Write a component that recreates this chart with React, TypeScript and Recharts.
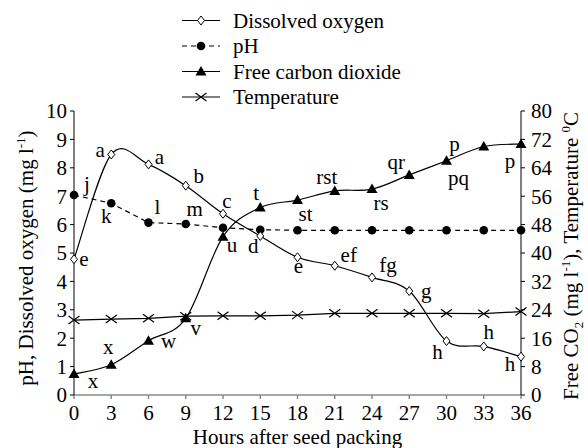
import React from "react";
import { LineChart, Line, XAxis, YAxis, Legend } from "recharts";

const hours = [0, 3, 6, 9, 12, 15, 18, 21, 24, 27, 30, 33, 36];
// left axis (pH, mg/l)
const dissolvedOxygen = [4.78, 8.47, 8.12, 7.37, 6.38, 5.6, 4.85, 4.55, 4.14, 3.66, 1.9, 1.71, 1.35];
const pH = [7.04, 6.75, 6.07, 6.02, 5.89, 5.82, 5.8, 5.8, 5.8, 5.8, 5.8, 5.8, 5.8];
// right axis (mg/l, deg C)
const freeCO2 = [5.9, 8.5, 15.3, 21.6, 44.6, 52.8, 54.9, 57.5, 58.0, 62.0, 66.0, 70.0, 70.7];
const temperature = [21.1, 21.4, 21.6, 22.2, 22.3, 22.3, 22.5, 23.0, 23.0, 23.0, 23.0, 22.9, 23.5];

// significance letters
const doLetters = ["e", "a", "a", "b", "c", "d", "e", "ef", "fg", "g", "h", "h", "h"];
const phLetters = ["j", "k", "l", "m", "", "", "", "", "", "", "", "", ""];
const co2Letters = ["x", "x", "w", "v", "u", "t", "st", "rst", "rs", "qr", "pq", "", "p"];
const co2LettersTop = ["", "", "", "", "", "", "", "", "", "", "p", "", ""];

const xTicks = [0, 3, 6, 9, 12, 15, 18, 21, 24, 27, 30, 33, 36];
const leftTicks = [0, 1, 2, 3, 4, 5, 6, 7, 8, 9, 10];
const rightTicks = [0, 8, 16, 24, 32, 40, 48, 56, 64, 72, 80];

const rows = hours.map((h, i) => ({
  hour: h,
  oxygen: dissolvedOxygen[i],
  ph: pH[i],
  co2: freeCO2[i],
  temp: temperature[i],
  oxygenLab: doLetters[i],
  phLab: phLetters[i],
  co2Lab: co2Letters[i],
  co2LabTop: co2LettersTop[i],
}));

// label offsets from the point (px)
const doPos = [[10, 1], [-11, -3], [11, -6], [13, -9], [4, -12], [-7, 11], [1, 10], [14, -10], [16, -11], [17, 1], [-9, 12], [5, -13], [-11, 8]];
const phPos = [[13, -10], [-5, 14], [9, -15], [9, -14]];
const co2Pos = [[19, 8], [-3, -17], [20, 1], [10, 11], [9, 9], [-4, -14], [8, 15], [-8, -13], [9, 15], [-13, -12], [12, 18], [0, 0], [-11, 18]];
const co2TopPos = { 10: [8, -16] } as Record<number, number[]>;

const FONT = '"Liberation Serif", "Times New Roman", serif';
const FS = 21;

// excel-like smoothing (catmull-rom through the points)
const smooth = (context: any) => {
  let pts: number[][] = [];
  return {
    areaStart() {},
    areaEnd() {},
    lineStart() {
      pts = [];
    },
    point(x: number, y: number) {
      pts.push([+x, +y]);
    },
    lineEnd() {
      const n = pts.length;
      if (!n) return;
      context.moveTo(pts[0][0], pts[0][1]);
      for (let i = 0; i < n - 1; i++) {
        const p0 = pts[Math.max(i - 1, 0)];
        const p1 = pts[i];
        const p2 = pts[i + 1];
        const p3 = pts[Math.min(i + 2, n - 1)];
        context.bezierCurveTo(
          p1[0] + (p2[0] - p0[0]) / 6,
          p1[1] + (p2[1] - p0[1]) / 6,
          p2[0] - (p3[0] - p1[0]) / 6,
          p2[1] - (p3[1] - p1[1]) / 6,
          p2[0],
          p2[1]
        );
      }
    },
  };
};

const Diamond = ({ x, y }: { x: number; y: number }) => (
  <path d={`M${x},${y - 4.5}L${x + 3.5},${y}L${x},${y + 4.5}L${x - 3.5},${y}Z`} fill="#fff" stroke="#000" strokeWidth={1} />
);
const Dot = ({ x, y }: { x: number; y: number }) => <circle cx={x} cy={y} r={4.3} fill="#000" />;
const Tri = ({ x, y }: { x: number; y: number }) => (
  <path d={`M${x},${y - 5.5}L${x + 5.5},${y + 4}L${x - 5.5},${y + 4}Z`} fill="#000" />
);
const Cross = ({ x, y }: { x: number; y: number }) => (
  <path d={`M${x - 5.5},${y - 4}L${x + 5.5},${y + 4}M${x - 5.5},${y + 4}L${x + 5.5},${y - 4}`} stroke="#000" strokeWidth={1.2} />
);

const letter = (x: number, y: number, text: string, key: string) =>
  text ? (
    <text key={key} x={x} y={y + 6} textAnchor="middle" fontSize={FS} fontFamily={FONT} fill="#000">
      {text}
    </text>
  ) : null;

const makeDot =
  (Marker: any, labKey: string, pos: number[][], topKey?: string, topPos?: Record<number, number[]>) =>
  (props: any) => {
    const { cx, cy, index, payload } = props;
    const off = pos[index] || [0, 0];
    const top = topPos && topPos[index];
    return (
      <g key={`d-${labKey}-${index}`}>
        <Marker x={cx} y={cy} />
        {letter(cx + off[0], cy + off[1], payload[labKey], "a")}
        {topKey && top ? letter(cx + top[0], cy + top[1], payload[topKey], "b") : null}
      </g>
    );
  };

const legendItems = [
  { name: "Dissolved oxygen", Marker: Diamond, dash: undefined },
  { name: "pH", Marker: Dot, dash: "5 4" },
  { name: "Free carbon dioxide", Marker: Tri, dash: undefined },
  { name: "Temperature", Marker: Cross, dash: undefined },
];

const renderLegend = () => (
  <svg width={588} height={110}>
    {legendItems.map((it, i) => {
      const y = 20.5 + i * 25.5;
      return (
        <g key={it.name}>
          <line x1={182} x2={220} y1={y} y2={y} stroke="#000" strokeWidth={1.2} strokeDasharray={it.dash} />
          <it.Marker x={201} y={y} />
          <text x={233} y={y + 7} fontSize={FS} fontFamily={FONT} fill="#000">
            {it.name}
          </text>
        </g>
      );
    })}
  </svg>
);

const leftTitle = () => (
  <text transform="translate(33,258) rotate(-90)" textAnchor="middle" fontSize={FS} fontFamily={FONT} fill="#000">
    pH, Dissolved oxygen (mg l
    <tspan dy={-8} fontSize={13}>-1</tspan>
    <tspan dy={8}>)</tspan>
  </text>
);

const rightTitle = () => (
  <text transform="translate(578,256) rotate(-90)" textAnchor="middle" fontSize={FS} fontFamily={FONT} fill="#000">
    Free CO
    <tspan dy={5} fontSize={13}>2</tspan>
    <tspan dy={-5}> (mg l</tspan>
    <tspan dy={-8} fontSize={13}>-1</tspan>
    <tspan dy={8}>), Temperature </tspan>
    <tspan dy={-8} fontSize={13}>0</tspan>
    <tspan dy={8}>C</tspan>
  </text>
);

const bottomTitle = () => (
  <text x={297.5} y={444} textAnchor="middle" fontSize={FS} fontFamily={FONT} fill="#000">
    Hours after seed packing
  </text>
);

export default function App() {
  const tick = { fontSize: FS, fill: "#000", fontFamily: FONT };
  return (
    <div style={{ position: "absolute", left: 0, top: 0, width: 588, height: 448, background: "#fff" }}>
      <LineChart width={588} height={448} data={rows} margin={{ top: 111, right: 0, bottom: 0, left: 0 }} style={{ fontFamily: FONT }}>
        <XAxis
          dataKey="hour"
          type="number"
          domain={[0, 36]}
          ticks={xTicks}
          height={53}
          stroke="#8a8a8a"
          strokeWidth={1.5}
          tickSize={4}
          tickMargin={6}
          tick={tick}
          interval={0}
          label={bottomTitle}
        />
        <YAxis
          yAxisId="left"
          domain={[0, 10]}
          ticks={leftTicks}
          width={74}
          stroke="#000"
          tickSize={4}
          tickMargin={3}
          tick={tick}
          interval={0}
          label={leftTitle}
        />
        <YAxis
          yAxisId="right"
          orientation="right"
          domain={[0, 80]}
          ticks={rightTicks}
          width={67}
          stroke="#000"
          tickSize={4}
          tickMargin={6}
          tick={{ ...tick, textAnchor: "start" }}
          interval={0}
          label={rightTitle}
        />
        <Legend
          layout="vertical"
          align="center"
          verticalAlign="middle"
          wrapperStyle={{ position: "absolute", top: 0, left: 0, width: 588, height: 110 }}
          content={renderLegend}
        />
        <Line
          yAxisId="right"
          dataKey="temp"
          type="linear"
          stroke="#000"
          strokeWidth={1.2}
          dot={makeDot(Cross, "none", [])}
          activeDot={false}
          isAnimationActive={false}
        />
        <Line
          yAxisId="left"
          dataKey="ph"
          type="linear"
          stroke="#000"
          strokeWidth={1.2}
          strokeDasharray="5 4"
          dot={makeDot(Dot, "phLab", phPos)}
          activeDot={false}
          isAnimationActive={false}
        />
        <Line
          yAxisId="right"
          dataKey="co2"
          type={smooth as any}
          stroke="#000"
          strokeWidth={1.2}
          dot={makeDot(Tri, "co2Lab", co2Pos, "co2LabTop", co2TopPos)}
          activeDot={false}
          isAnimationActive={false}
        />
        <Line
          yAxisId="left"
          dataKey="oxygen"
          type={smooth as any}
          stroke="#000"
          strokeWidth={1.2}
          dot={makeDot(Diamond, "oxygenLab", doPos)}
          activeDot={false}
          isAnimationActive={false}
        />
      </LineChart>
    </div>
  );
}
